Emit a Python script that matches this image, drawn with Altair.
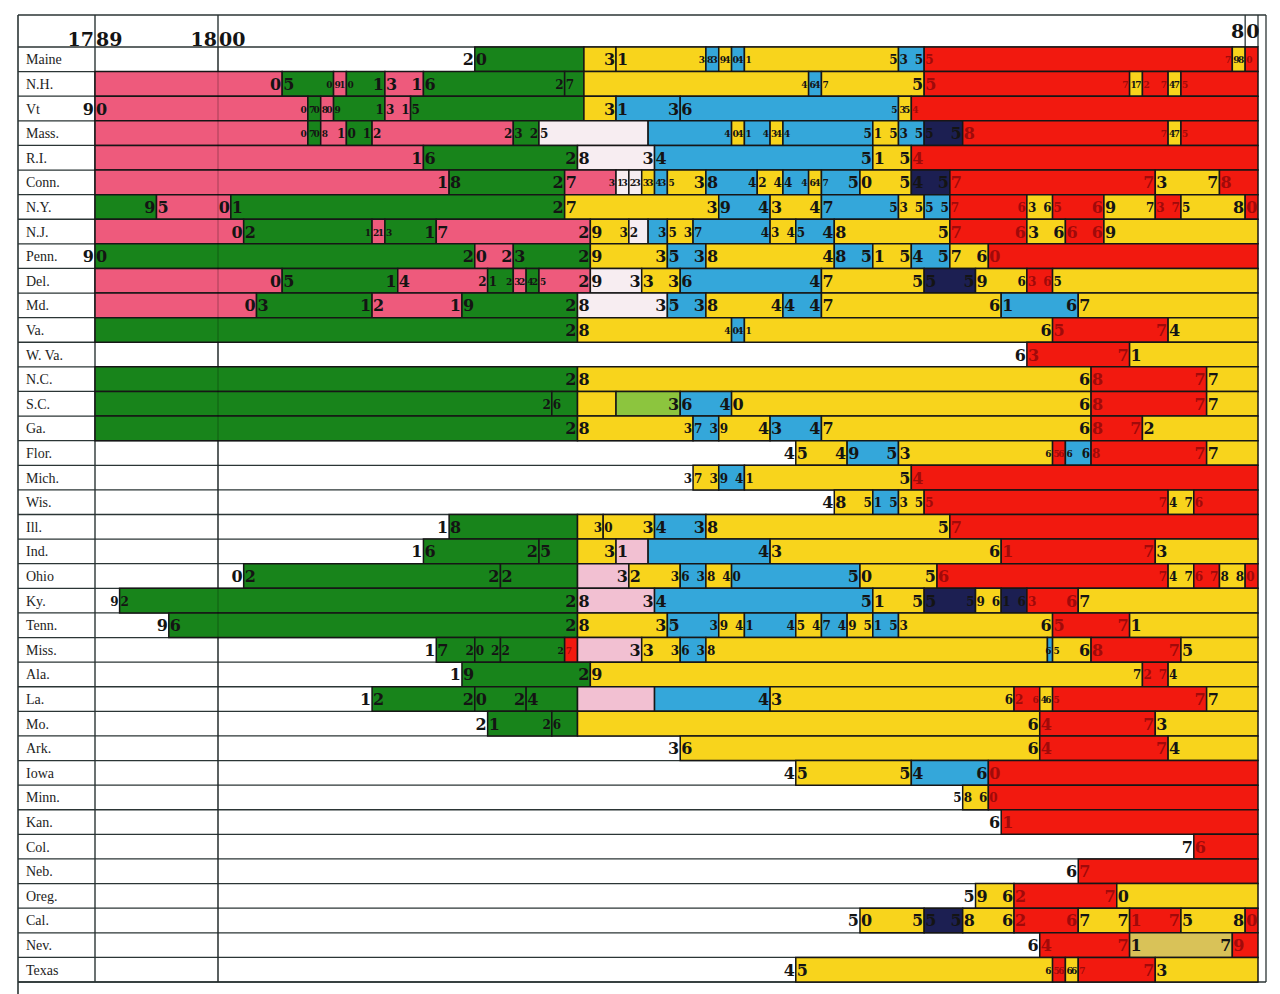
import altair as alt
import pandas as pd

START_YEAR = 1790
END_YEAR = 1881

STATE_NAMES = ["Maine", "N.H.", "Vt", "Mass.", "R.I.", "Conn.", "N.Y.", "N.J.", "Penn.",
               "Del.", "Md.", "Va.", "W. Va.", "N.C.", "S.C.", "Ga.", "Flor.", "Mich.",
               "Wis.", "Ill.", "Ind.", "Ohio", "Ky.", "Tenn.", "Miss.", "Ala.", "La.",
               "Mo.", "Ark.", "Iowa", "Minn.", "Kan.", "Col.", "Neb.", "Oreg.", "Cal.",
               "Nev.", "Texas"]

# (year the period starts, party, year printed at the change)
MAINE = [(1790, "-", 0), (1820, "D", 1), (1828.5, "Y", 0), (1831, "Y", 1), (1838, "W", 1), (1839, "Y", 1),
         (1840, "W", 1), (1841, "Y", 1), (1853, "W", 1), (1855, "R", 1), (1879, "Y", 1), (1880, "R", 1)]
NEW_HAMPSHIRE = [(1790, "F", 0), (1805, "D", 1), (1809, "F", 1), (1810, "D", 1), (1813, "F", 1), (1816, "D", 1),
                 (1827, "D", 1), (1828.5, "Y", 0), (1846, "W", 1), (1847, "Y", 1), (1855, "R", 1), (1871, "Y", 1),
                 (1872, "R", 1), (1874, "Y", 1), (1875, "R", 1)]
VERMONT = [(1790, "F", 1), (1807, "D", 1), (1808, "F", 1), (1809, "D", 1), (1813, "F", 1), (1815, "D", 1),
           (1828.5, "Y", 0), (1831, "W", 1), (1836, "W", 1), (1853, "Y", 1), (1854, "R", 1)]
MASSACHUSETTS = [(1790, "F", 0), (1807, "D", 1), (1808, "F", 1), (1810, "D", 1), (1812, "F", 1), (1823, "D", 1),
                 (1825, "E", 1), (1833.5, "W", 0), (1840, "Y", 1), (1841, "W", 1), (1843, "Y", 1), (1844, "W", 1),
                 (1851, "Y", 1), (1853, "W", 1), (1855, "K", 1), (1858, "R", 1), (1874, "Y", 1), (1875, "R", 1)]
RHODE_ISLAND = [(1790, "F", 0), (1816, "D", 1), (1828, "E", 1), (1834, "W", 1), (1851, "Y", 1), (1854, "R", 1)]
CONNECTICUT = [(1790, "F", 0), (1818, "D", 1), (1827, "F", 1), (1831, "E", 1), (1832, "E", 1), (1833, "Y", 1),
               (1834, "W", 1), (1835, "Y", 1), (1838, "W", 1), (1842, "Y", 1), (1844, "W", 1), (1846, "Y", 1),
               (1847, "W", 1), (1850, "Y", 1), (1854, "K", 1), (1857, "R", 1), (1873, "Y", 1), (1878, "R", 1)]
NEW_YORK = [(1790, "D", 0), (1795, "F", 1), (1801, "D", 1), (1827, "Y", 1), (1839, "W", 1), (1843, "Y", 1),
            (1847, "W", 1), (1853, "Y", 1), (1855, "W", 1), (1857, "R", 1), (1863, "Y", 1), (1865, "R", 1),
            (1869, "Y", 1), (1873, "R", 1), (1875, "Y", 1), (1880, "R", 1)]
NEW_JERSEY = [(1790, "F", 0), (1802, "D", 1), (1812, "F", 1), (1813, "D", 1), (1817, "F", 1), (1829, "Y", 1),
              (1832, "E", 1), (1833.5, "W", 0), (1835, "Y", 1), (1837, "W", 1), (1843, "Y", 1), (1845, "W", 1),
              (1848, "Y", 1), (1857, "R", 1), (1863, "Y", 1), (1866, "R", 1), (1869, "Y", 1)]
PENNSYLVANIA = [(1790, "D", 1), (1820, "F", 1), (1823, "D", 1), (1829, "Y", 1), (1835, "W", 1), (1838, "Y", 1),
                (1848, "W", 1), (1851, "Y", 1), (1854, "W", 1), (1857, "Y", 1), (1860, "R", 1)]
DELAWARE = [(1790, "F", 0), (1805, "D", 1), (1814, "F", 1), (1821, "D", 1), (1823, "F", 1), (1824, "D", 1),
            (1825, "F", 1), (1829, "E", 1), (1833, "Y", 1), (1836, "W", 1), (1847, "Y", 1), (1855, "K", 1),
            (1859, "Y", 1), (1863, "R", 1), (1865, "Y", 1)]
MARYLAND = [(1790, "F", 0), (1803, "D", 1), (1812, "F", 1), (1819, "D", 1), (1828, "E", 1), (1835, "W", 1),
            (1838, "Y", 1), (1844, "W", 1), (1847, "Y", 1), (1861, "W", 1), (1867, "Y", 1)]
VIRGINIA = [(1790, "D", 0), (1828, "Y", 1), (1840, "W", 1), (1841, "Y", 1), (1865, "R", 1), (1874, "Y", 1)]
WEST_VIRGINIA = [(1790, "-", 0), (1863, "R", 1), (1871, "Y", 1)]
NORTH_CAROLINA = [(1790, "D", 0), (1828, "Y", 1), (1868, "R", 1), (1877, "Y", 1)]
SOUTH_CAROLINA = [(1790, "D", 0), (1826, "D", 1), (1828, "Y", 0), (1831, "L", 0), (1836, "W", 1), (1840, "Y", 1),
                  (1868, "R", 1), (1877, "Y", 1)]
GEORGIA = [(1790, "D", 0), (1828, "Y", 1), (1837, "W", 1), (1839, "Y", 1), (1843, "W", 1), (1847, "Y", 1),
           (1868, "R", 1), (1872, "Y", 1)]
FLORIDA = [(1790, "-", 0), (1845, "Y", 1), (1849, "W", 1), (1853, "Y", 1), (1865, "R", 1), (1866, "W", 1),
           (1868, "R", 1), (1877, "Y", 1)]
MICHIGAN = [(1790, "-", 0), (1837, "Y", 1), (1839, "W", 1), (1841, "Y", 1), (1854, "R", 1)]
WISCONSIN = [(1790, "-", 0), (1848, "Y", 1), (1851, "W", 1), (1853, "Y", 1), (1855, "R", 1), (1874, "Y", 1),
             (1876, "R", 1)]
ILLINOIS = [(1790, "-", 0), (1818, "D", 1), (1828, "Y", 0), (1830, "Y", 1), (1834, "W", 1), (1838, "Y", 1),
            (1857, "R", 1)]
INDIANA = [(1790, "-", 0), (1816, "D", 1), (1825, "D", 1), (1828, "Y", 0), (1831, "P", 1), (1833.5, "W", 0),
           (1843, "Y", 1), (1861, "R", 1), (1873, "Y", 1)]
OHIO = [(1790, "-", 0), (1802, "D", 1), (1822, "D", 1), (1828, "P", 0), (1832, "Y", 1), (1836, "W", 1),
        (1838, "Y", 1), (1840, "W", 1), (1850, "Y", 1), (1856, "R", 1), (1874, "Y", 1), (1876, "R", 1),
        (1878, "Y", 1), (1880, "R", 1)]
KENTUCKY = [(1790, "-", 0), (1792, "D", 1), (1828, "P", 1), (1834, "W", 1), (1851, "Y", 1), (1855, "K", 1),
            (1859, "Y", 1), (1861, "K", 1), (1863, "R", 1), (1867, "Y", 1)]
TENNESSEE = [(1790, "-", 0), (1796, "D", 1), (1828, "Y", 1), (1835, "W", 1), (1839, "Y", 1), (1841, "W", 1),
             (1845, "Y", 1), (1847, "W", 1), (1849, "Y", 1), (1851, "W", 1), (1853, "Y", 1), (1865, "R", 1),
             (1871, "Y", 1)]
MISSISSIPPI = [(1790, "-", 0), (1817, "D", 1), (1820, "D", 1), (1822, "D", 1), (1827, "R", 1), (1828, "P", 0),
               (1833, "Y", 1), (1836, "W", 1), (1838, "Y", 1), (1864.6, "W", 0), (1865, "Y", 1), (1868, "R", 1),
               (1875, "Y", 1)]
ALABAMA = [(1790, "-", 0), (1819, "D", 1), (1829, "Y", 1), (1872, "R", 1), (1874, "Y", 1)]
LOUISIANA = [(1790, "-", 0), (1812, "D", 1), (1820, "D", 1), (1824, "D", 1), (1828, "P", 0), (1834, "W", 0),
             (1843, "Y", 1), (1862, "R", 1), (1864, "Y", 1), (1865, "R", 1), (1877, "Y", 1)]
MISSOURI = [(1790, "-", 0), (1821, "D", 1), (1826, "D", 1), (1828, "Y", 0), (1864, "R", 1), (1873, "Y", 1)]
ARKANSAS = [(1790, "-", 0), (1836, "Y", 1), (1864, "R", 1), (1874, "Y", 1)]
IOWA = [(1790, "-", 0), (1845, "Y", 1), (1854, "W", 1), (1860, "R", 1)]
MINNESOTA = [(1790, "-", 0), (1858, "Y", 1), (1860, "R", 1)]
KANSAS = [(1790, "-", 0), (1861, "R", 1)]
COLORADO = [(1790, "-", 0), (1876, "R", 1)]
NEBRASKA = [(1790, "-", 0), (1867, "R", 1)]
OREGON = [(1790, "-", 0), (1859, "Y", 1), (1862, "R", 1), (1870, "Y", 1)]
CALIFORNIA = [(1790, "-", 0), (1850, "Y", 1), (1855, "K", 1), (1858, "Y", 1), (1862, "R", 1), (1867, "Y", 1),
              (1871, "R", 1), (1875, "Y", 1), (1880, "R", 1)]
NEVADA = [(1790, "-", 0), (1864, "R", 1), (1871, "O", 1), (1879, "R", 1)]
TEXAS = [(1790, "-", 0), (1845, "Y", 1), (1865, "R", 1), (1866, "Y", 1), (1867, "R", 1), (1873, "Y", 1)]

SEGMENTS = [MAINE, NEW_HAMPSHIRE, VERMONT, MASSACHUSETTS, RHODE_ISLAND, CONNECTICUT, NEW_YORK, NEW_JERSEY,
            PENNSYLVANIA, DELAWARE, MARYLAND, VIRGINIA, WEST_VIRGINIA, NORTH_CAROLINA, SOUTH_CAROLINA, GEORGIA,
            FLORIDA, MICHIGAN, WISCONSIN, ILLINOIS, INDIANA, OHIO, KENTUCKY, TENNESSEE, MISSISSIPPI, ALABAMA,
            LOUISIANA, MISSOURI, ARKANSAS, IOWA, MINNESOTA, KANSAS, COLORADO, NEBRASKA, OREGON, CALIFORNIA,
            NEVADA, TEXAS]

PARTIES = ["F", "D", "Y", "W", "R", "E", "P", "K", "L", "O"]
PARTY_FILL = ["#ee5a7c", "#18841b", "#f8d41c", "#34a7da", "#f2190f", "#f7edf1", "#f2c0d2", "#1c1f52",
              "#8cc53e", "#d9c258"]

HEADER_YEARS = [1790, 1800, 1880]
HEADER_LEFT = ["17", "18", "8"]
HEADER_RIGHT = ["89", "00", "0"]


def ink(p):
    return "#a00a0a" if p == "R" else "#141414"


rects, digits = [], []
for i, segs in enumerate(SEGMENTS):
    for j, (yr, p, lab) in enumerate(segs):
        last = j + 1 >= len(segs)
        end = END_YEAR if last else segs[j + 1][0]
        if p != "-":
            rects.append(dict(top=i, bottom=i + 1, start=yr, end=end, party=p))
        if lab:
            prev_w = yr - segs[j - 1][0] if j > 0 else 99
            next_w = 99 if last else end - yr
            m = min(prev_w, next_w)
            fs = 9 if m < 1.5 else (12 if m < 2.4 else 16)
            txt = f"{int(yr) % 100:02d}"
            lp = segs[j - 1][1] if j > 0 else "-"
            digits.append(dict(mid=i + 0.5, year=yr, d1=txt[0], d2=txt[1], fs=fs, c1=ink(lp), c2=ink(p)))

rect_df = pd.DataFrame(rects)
digit_df = pd.DataFrame(digits)
names_df = pd.DataFrame({"name": STATE_NAMES, "mid": [i + 0.5 for i in range(len(STATE_NAMES))]})
lines_df = pd.DataFrame({"k": list(range(len(STATE_NAMES) + 1))})
header_df = pd.DataFrame({"yr": HEADER_YEARS, "a": HEADER_LEFT, "b": HEADER_RIGHT, "hy": [-0.3, -0.3, -0.62]})

xs = alt.Scale(domain=[START_YEAR, 1800, END_YEAR], range=[95, 218, 1258], nice=False, zero=False)
ys = alt.Scale(domain=[0, len(STATE_NAMES)], range=[47, 982], nice=False, zero=False)

LINE = "#2b3535"

row_lines = alt.Chart(lines_df).mark_rule(color=LINE, strokeWidth=1.3).encode(
    y=alt.Y("k:Q", scale=ys, axis=None), x=alt.value(18), x2=alt.value(1258))

vlines = alt.Chart(pd.DataFrame({"yr": [START_YEAR, 1800]})).mark_rule(color=LINE, strokeWidth=1.4).encode(
    x=alt.X("yr:Q", scale=xs, axis=None), y=alt.value(15), y2=alt.value(982))

head_lines = alt.Chart(pd.DataFrame({"yr": [1880, END_YEAR]})).mark_rule(color=LINE, strokeWidth=1.3).encode(
    x=alt.X("yr:Q", scale=xs, axis=None), y=alt.value(15), y2=alt.value(47))

frame_top = alt.Chart(pd.DataFrame({"k": [0]})).mark_rule(color=LINE, strokeWidth=1.6).encode(
    y=alt.value(15), x=alt.value(18), x2=alt.value(1266))
frame_left = alt.Chart(pd.DataFrame({"k": [0]})).mark_rule(color=LINE, strokeWidth=1.6).encode(
    x=alt.value(18), y=alt.value(15), y2=alt.value(994))
frame_right = alt.Chart(pd.DataFrame({"k": [0]})).mark_rule(color=LINE, strokeWidth=1.3).encode(
    x=alt.value(1266), y=alt.value(15), y2=alt.value(982))
frame_bottom = alt.Chart(pd.DataFrame({"k": [0]})).mark_rule(color=LINE, strokeWidth=1.4).encode(
    y=alt.value(982), x=alt.value(18), x2=alt.value(1266))

bars = alt.Chart(rect_df).mark_rect(stroke="#161616", strokeWidth=1.5).encode(
    x=alt.X("start:Q", scale=xs, axis=None), x2="end:Q",
    y=alt.Y("top:Q", scale=ys, axis=None), y2="bottom:Q",
    color=alt.Color("party:N", scale=alt.Scale(domain=PARTIES, range=PARTY_FILL), legend=None))

line1800 = alt.Chart(pd.DataFrame({"yr": [1800]})).mark_rule(color="#000000", strokeWidth=1, opacity=0.3).encode(
    x=alt.X("yr:Q", scale=xs, axis=None), y=alt.value(47), y2=alt.value(982))

d_left = alt.Chart(digit_df).mark_text(align="right", baseline="middle", dx=-1, dy=1,
                                        font="DejaVu Serif", fontWeight="bold").encode(
    x=alt.X("year:Q", scale=xs, axis=None), y=alt.Y("mid:Q", scale=ys, axis=None),
    text="d1:N", size=alt.Size("fs:Q", scale=None), fill=alt.Fill("c1:N", scale=None))
d_right = alt.Chart(digit_df).mark_text(align="left", baseline="middle", dx=1, dy=1,
                                         font="DejaVu Serif", fontWeight="bold").encode(
    x=alt.X("year:Q", scale=xs, axis=None), y=alt.Y("mid:Q", scale=ys, axis=None),
    text="d2:N", size=alt.Size("fs:Q", scale=None), fill=alt.Fill("c2:N", scale=None))

h_left = alt.Chart(header_df).mark_text(align="right", baseline="middle", dx=-1, font="DejaVu Serif",
                                         fontWeight="bold", fontSize=19, color="#141414").encode(
    x=alt.X("yr:Q", scale=xs, axis=None), y=alt.Y("hy:Q", scale=ys, axis=None), text="a:N")
h_right = alt.Chart(header_df).mark_text(align="left", baseline="middle", dx=1, font="DejaVu Serif",
                                          fontWeight="bold", fontSize=19, color="#141414").encode(
    x=alt.X("yr:Q", scale=xs, axis=None), y=alt.Y("hy:Q", scale=ys, axis=None), text="b:N")

names = alt.Chart(names_df).mark_text(align="left", baseline="middle", font="Liberation Serif",
                                      fontSize=14, color="#1d1d1d", dy=1).encode(
    x=alt.value(26), y=alt.Y("mid:Q", scale=ys, axis=None), text="name:N")

chart = alt.layer(
    row_lines, vlines, head_lines, frame_top, frame_left, frame_right, frame_bottom,
    bars, line1800, d_left, d_right, h_left, h_right, names
).properties(
    width=1280, height=994, padding=0, background="white",
    autosize=alt.AutoSizeParams(type="none")
).configure_view(stroke=None)

chart.save("out.html", embed_options={"renderer": "svg", "actions": False})
